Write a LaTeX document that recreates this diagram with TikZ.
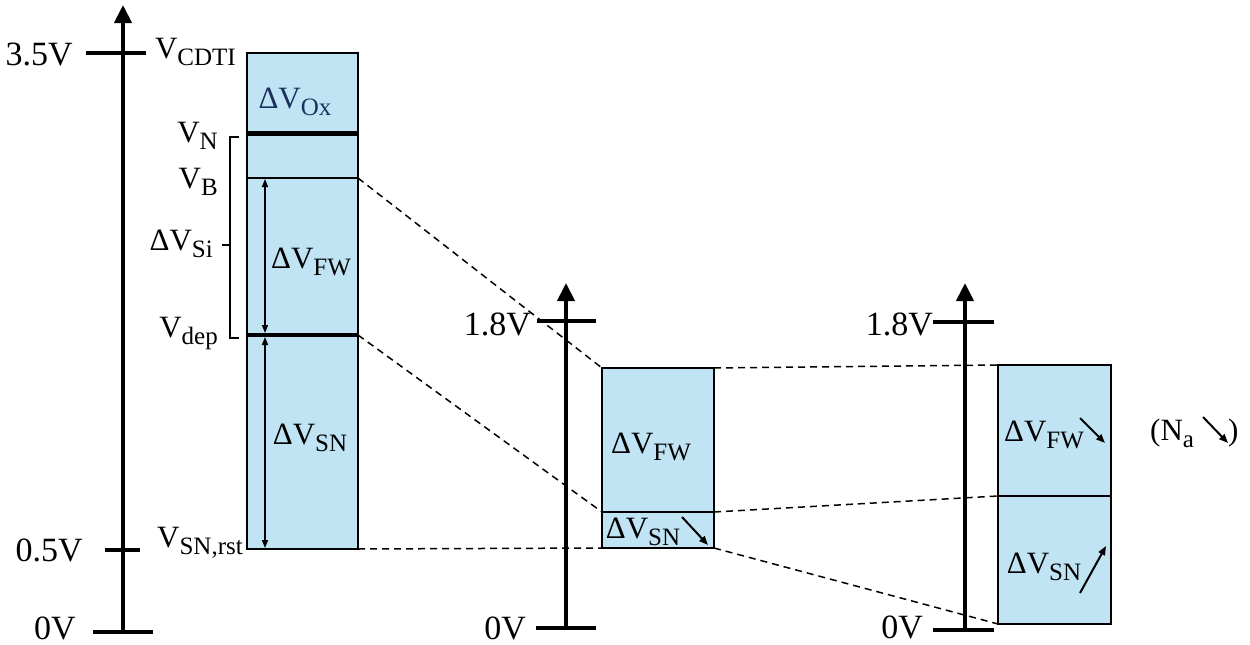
\documentclass[tikz,border=0pt]{standalone}
\usepackage{fontspec}
\setmainfont{Liberation Serif}
\usetikzlibrary{arrows.meta,positioning}
\definecolor{boxblue}{RGB}{192,228,244}
\definecolor{oxblue}{RGB}{28,50,92}
\newcommand{\vsub}[1]{\raisebox{-7pt}{\fontsize{25}{25}\selectfont #1}}

\begin{document}
\begin{tikzpicture}[x=1pt,y=-1pt,
  lvl/.style={draw,line width=2pt,fill=boxblue,inner sep=0pt,outer sep=0pt},
  vaxis/.style={line width=4pt,-{Triangle[width=17pt,length=18pt]}},
  tickline/.style={line width=4pt},
  volt/.style={font=\fontsize{34}{34}\selectfont,anchor=east,inner sep=0pt},
  vlab/.style={font=\fontsize{31}{31}\selectfont,inner sep=0pt},
  guide/.style={line width=1.5pt,dash pattern=on 7pt off 5pt},
  trend/.style={line width=2pt,-{Triangle[width=7pt,length=9pt]}},
  span/.style={line width=1.5pt,{Triangle[width=6pt,length=8pt]}-{Triangle[width=6pt,length=8pt]}}]
\useasboundingbox (0,0) rectangle (1250,645);
% axes
\coordinate (a1b) at (123,632); \coordinate (a1t) at (123,5);
\coordinate (a2b) at (566,628); \coordinate (a2t) at (566,283);
\coordinate (a3b) at (965,630); \coordinate (a3t) at (965,283);
\draw[vaxis] (a1b) -- (a1t);
\draw[vaxis] (a2b) -- (a2t);
\draw[vaxis] (a3b) -- (a3t);
\draw[tickline] (86,53) -- (146,53);
\draw[tickline] (105,550) -- (140,550);
\draw[tickline] (93,632) -- (153,632);
\draw[tickline] (537,321) -- (596,321);
\draw[tickline] (536,628) -- (596,628);
\draw[tickline] (933,322) -- (994,322);
\draw[tickline] (933,630) -- (994,630);
\node[volt] (t35) at (73,55) {3.5V};
\node[volt] (t05) at (83,550) {0.5V};
\node[volt] (t0a) at (76,628) {0V};
\node[volt] (t18b) at (531,324) {1.8V};
\node[volt] (t0b) at (526,628) {0V};
\node[volt] (t18c) at (933,324) {1.8V};
\node[volt] (t0c) at (923,627) {0V};
% boxes
\node[lvl,minimum width=111pt,minimum height=80pt] (ox) at (302.5,93) {};
\node[lvl,minimum width=111pt,minimum height=45pt] (nb) at (302.5,155.5) {};
\node[lvl,minimum width=111pt,minimum height=157pt] (fw1) at (302.5,256.5) {};
\node[lvl,minimum width=111pt,minimum height=214pt] (sn1) at (302.5,442) {};
\node[lvl,minimum width=112pt,minimum height=144pt] (fw2) at (658,440) {};
\node[lvl,minimum width=112pt,minimum height=36pt] (sn2) at (658,530) {};
\node[lvl,minimum width=113pt,minimum height=131pt] (fw3) at (1054.5,430.5) {};
\node[lvl,minimum width=113pt,minimum height=128pt] (sn3) at (1054.5,560) {};
\draw[line width=5pt] (ox.south west) -- (ox.south east);
\draw[line width=3.5pt] (fw1.south west) -- (fw1.south east);
% labels
\node[vlab,anchor=east] (vcdti) at (236,52) {V\vsub{CDTI}};
\node[vlab,anchor=east] (vn) at (218,136) {V\vsub{N}};
\node[vlab,anchor=east] (vb) at (218,182) {V\vsub{B}};
\node[vlab,anchor=east] (dvsi) at (213,244) {ΔV\vsub{Si}};
\node[vlab,anchor=east] (vdep) at (218,334) {V\vsub{dep}};
\node[vlab,anchor=east] (vsnr) at (243,543) {V\vsub{SN,rst}};
\draw[line width=2pt] (239,137) -- (230,137) -- (230,338) -- (239,338);
\draw[line width=2pt] (230,245) -- (222,245);
\node[vlab,text=oxblue] (dvox) at (295,102) {ΔV\vsub{Ox}};
\node[vlab] (dvfw1) at (311,262) {ΔV\vsub{FW}};
\node[vlab] (dvsn1) at (310,438) {ΔV\vsub{SN}};
\node[vlab] (dvfw2) at (651,447) {ΔV\vsub{FW}};
\node[vlab] (dvsn2) at (643,532) {ΔV\vsub{SN}};
\node[vlab] (dvfw3) at (1044,435) {ΔV\vsub{FW}};
\node[vlab] (dvsn3) at (1044,567) {ΔV\vsub{SN}};
\node[vlab,anchor=west] (na) at (1150,433) {(N\vsub{a}\hspace{34pt})};
\draw[span] (265,179) -- (265,333);
\draw[span] (265,337) -- (265,548);
\draw[trend] (682,517) -- (708,545);
\draw[trend] (1080,418) -- (1105,443);
\draw[trend] (1080,593) -- (1106,546);
\draw[trend] (1203,417) -- (1228,443);
% guides
\draw[guide] (fw1.north east) -- (fw2.north west);
\draw[guide] (sn1.north east) -- (sn2.north west);
\draw[guide] (sn1.south east) -- (sn2.south west);
\draw[guide] (fw2.north east) -- (fw3.north west);
\draw[guide] (sn2.north east) -- (sn3.north west);
\draw[guide] (sn2.south east) -- (sn3.south west);
\end{tikzpicture}
\end{document}
